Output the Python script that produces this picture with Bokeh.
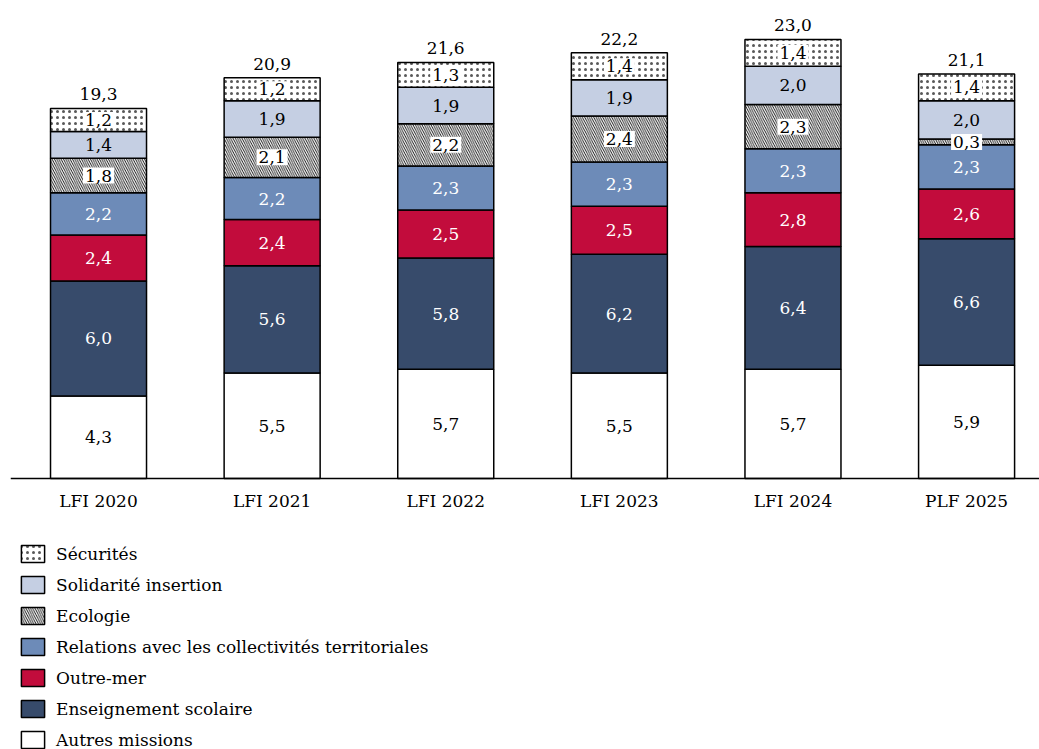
import numpy as np
from bokeh.plotting import figure
from bokeh.models import ColumnDataSource, Range1d, FixedTicker, Legend, LegendItem
from bokeh.core.properties import value
from bokeh.embed import file_html
from bokeh.resources import INLINE

years = ["LFI 2020", "LFI 2021", "LFI 2022", "LFI 2023", "LFI 2024", "PLF 2025"]
autres = [4.3, 5.5, 5.7, 5.5, 5.7, 5.9]
enseignement = [6.0, 5.6, 5.8, 6.2, 6.4, 6.6]
outremer = [2.4, 2.4, 2.5, 2.5, 2.8, 2.6]
relations = [2.2, 2.2, 2.3, 2.3, 2.3, 2.3]
ecologie = [1.8, 2.1, 2.2, 2.4, 2.3, 0.3]
solidarite = [1.4, 1.9, 1.9, 1.9, 2.0, 2.0]
securites = [1.2, 1.2, 1.3, 1.4, 1.4, 1.4]
totals = [19.3, 20.9, 21.6, 22.2, 23.0, 21.1]

names = ["Autres missions", "Enseignement scolaire", "Outre-mer",
         "Relations avec les collectivités territoriales", "Ecologie",
         "Solidarité insertion", "Sécurités"]
series = [autres, enseignement, outremer, relations, ecologie, solidarite, securites]
colors = ["#ffffff", "#374b6b", "#c20c3c", "#6d8bb8", "#ffffff", "#c5cfe3", "#ffffff"]
hatches = [None, None, None, None, "left_diagonal_line", None, "dot"]
label_colors = ["black", "white", "white", "white", "black", "black", "black"]
label_bg = [None, None, None, None, "white", None, "white"]

FONT = "DejaVu Serif"
xpos = list(range(len(years)))

p = figure(width=1039, height=749, output_backend="svg", toolbar_location=None,
           x_range=Range1d(-0.507, 5.42), y_range=Range1d(-14.14, 24.93),
           min_border_left=10, min_border_right=0, min_border_top=0, min_border_bottom=0)
p.outline_line_color = None
p.xgrid.visible = False
p.ygrid.visible = False
p.yaxis.visible = False

bottom = np.zeros(len(years))
renderers = []
sources = []
for name, vals, col, hat in zip(names, series, colors, hatches):
    vals = np.array(vals)
    top = bottom + vals
    src = ColumnDataSource(dict(x=xpos, bottom=bottom.copy(), top=top.copy(),
                                mid=(bottom + vals / 2), lab=[f"{v:.1f}".replace(".", ",") for v in vals]))
    kw = {}
    if hat == "dot":
        kw = dict(hatch_pattern=hat, hatch_color="black", hatch_scale=6, hatch_weight=0.5,
                  hatch_alpha=0.65)
    elif hat:
        kw = dict(hatch_pattern=hat, hatch_color="black", hatch_scale=4.5, hatch_weight=0.9)
    r = p.vbar(x="x", bottom="bottom", top="top", width=0.553, source=src,
               fill_color=col, line_color="black", line_width=1.5, **kw)
    renderers.append((name, r))
    sources.append(src)
    bottom = top

for src, lc, bg in zip(sources, label_colors, label_bg):
    tkw = {}
    if bg:
        tkw = dict(background_fill_color=bg, padding=2)
    p.text(x="x", y="mid", text="lab", source=src, text_align="center", text_baseline="middle",
           text_color=lc, text_font=value(FONT), text_font_size="17px", **tkw)

tot_src = ColumnDataSource(dict(x=xpos, y=bottom, lab=[f"{v:.1f}".replace(".", ",") for v in totals]))
p.text(x="x", y="y", text="lab", source=tot_src, text_align="center", text_baseline="bottom",
       y_offset=-8, text_color="black", text_font=value(FONT), text_font_size="17px")

ax = p.xaxis[0]
ax.fixed_location = 0
ax.ticker = FixedTicker(ticks=xpos)
ax.major_label_overrides = {i: y for i, y in zip(xpos, years)}
ax.major_tick_line_color = None
ax.minor_tick_line_color = None
ax.axis_line_width = 1.5
ax.axis_line_color = "black"
ax.major_label_text_font = FONT
ax.major_label_text_font_size = "17px"
ax.major_label_text_color = "black"
ax.major_label_standoff = 7

items = [LegendItem(label=n, renderers=[r]) for n, r in reversed(renderers)]
legend = Legend(items=items, location=(8, -1), glyph_width=29, glyph_height=21,
                label_height=21, spacing=10, padding=0, margin=0,
                border_line_alpha=0, background_fill_alpha=0,
                label_text_font=FONT, label_text_font_size="17px",
                label_text_color="black", label_standoff=9)
p.add_layout(legend)

open("out.html", "w").write(file_html(p, INLINE))
